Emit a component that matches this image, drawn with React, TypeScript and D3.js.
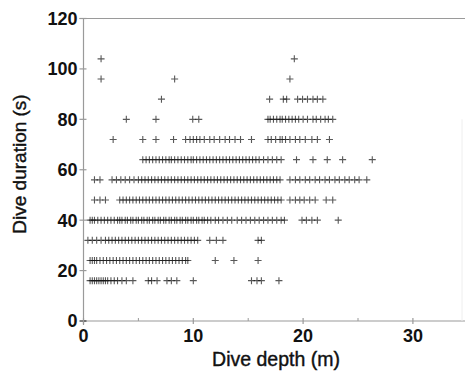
import React from "react";
import * as d3 from "d3";

const durations = [16, 24, 32, 40, 48, 56, 64, 72, 80, 88, 96, 104];

const depths16 = [0.6, 0.8, 1.0, 1.2, 1.4, 1.6, 1.8, 2.0, 2.2, 2.5, 2.8, 3.1, 3.5, 3.9, 4.5, 5.9, 6.2, 6.7, 7.6, 8.0, 8.5, 10.0, 15.3, 15.8, 16.2, 17.8];
const depths24 = [0.6, 0.8, 1.0, 1.2, 1.5, 1.8, 2.1, 2.4, 2.7, 3.0, 3.3, 3.6, 3.9, 4.2, 4.5, 4.8, 5.1, 5.4, 5.7, 6.0, 6.3, 6.6, 6.9, 7.2, 7.5, 7.8, 8.1, 8.4, 8.7, 9.0, 9.3, 9.5, 12.0, 13.7, 15.9];
const depths32 = [0.4, 0.8, 1.2, 1.6, 2.0, 2.3, 2.6, 2.9, 3.2, 3.5, 3.8, 4.1, 4.4, 4.7, 5.0, 5.3, 5.6, 5.9, 6.2, 6.5, 6.8, 7.1, 7.4, 7.7, 8.0, 8.3, 8.6, 8.9, 9.2, 9.5, 9.8, 10.1, 10.4, 11.5, 12.1, 12.7, 15.9, 16.2];
const depths40 = [0.6, 0.8, 1.0, 1.3, 1.6, 1.9, 2.2, 2.5, 2.8, 3.1, 3.3, 3.5, 3.8, 4.0, 4.3, 4.5, 4.8, 5.0, 5.3, 5.5, 5.8, 6.0, 6.3, 6.5, 6.8, 7.0, 7.3, 7.5, 7.8, 8.0, 8.3, 8.5, 8.8, 9.0, 9.3, 9.5, 9.8, 10.0, 10.3, 10.5, 10.8, 11.0, 11.3, 11.6, 12.0, 12.3, 12.7, 13.1, 13.5, 14.0, 14.4, 14.8, 15.2, 15.6, 16.0, 16.4, 16.8, 17.2, 17.6, 18.0, 18.3, 19.9, 20.3, 20.8, 21.3, 23.2];
const depths48 = [1.0, 1.5, 2.0, 3.3, 3.6, 3.9, 4.2, 4.5, 4.8, 5.1, 5.4, 5.7, 6.0, 6.3, 6.6, 6.9, 7.2, 7.5, 7.8, 8.1, 8.4, 8.7, 9.0, 9.3, 9.6, 9.9, 10.2, 10.5, 10.8, 11.1, 11.4, 11.7, 12.0, 12.3, 12.6, 12.9, 13.2, 13.5, 13.8, 14.1, 14.4, 14.7, 15.0, 15.3, 15.6, 15.9, 16.2, 16.5, 16.8, 17.1, 17.4, 17.7, 18.0, 18.8, 19.3, 19.7, 20.1, 20.6, 21.1, 22.1, 22.7];
const depths56 = [1.0, 1.5, 2.6, 3.0, 3.4, 3.8, 4.2, 4.6, 5.0, 5.3, 5.6, 5.9, 6.2, 6.5, 6.8, 7.1, 7.4, 7.7, 8.0, 8.3, 8.6, 8.9, 9.2, 9.5, 9.8, 10.1, 10.4, 10.7, 11.0, 11.3, 11.6, 11.9, 12.2, 12.5, 12.8, 13.1, 13.4, 13.7, 14.0, 14.3, 14.6, 14.9, 15.2, 15.5, 15.8, 16.1, 16.4, 16.7, 17.0, 17.3, 17.6, 17.9, 18.8, 19.3, 19.7, 20.2, 20.6, 21.1, 21.5, 22.0, 22.4, 22.9, 23.3, 23.8, 24.2, 24.7, 25.1, 25.8];
const depths64 = [5.4, 5.7, 6.0, 6.3, 6.6, 6.9, 7.2, 7.5, 7.8, 8.0, 8.3, 8.6, 8.9, 9.2, 9.5, 9.8, 10.0, 10.3, 10.6, 10.9, 11.2, 11.5, 11.8, 12.1, 12.4, 12.7, 13.0, 13.3, 13.6, 13.9, 14.2, 14.5, 14.8, 15.1, 15.4, 15.7, 16.0, 16.4, 16.8, 17.2, 17.6, 18.0, 19.4, 20.9, 22.2, 23.6, 26.3];
const depths72 = [2.7, 5.4, 6.6, 8.2, 9.3, 9.7, 10.0, 10.3, 10.6, 11.0, 11.5, 11.9, 12.4, 12.9, 13.3, 13.8, 14.3, 15.3, 16.8, 17.1, 17.5, 17.9, 18.1, 18.4, 18.8, 19.3, 19.7, 20.2, 20.8, 21.3, 22.4];
const depths80 = [3.9, 6.6, 9.95, 10.5, 16.8, 17.0, 17.3, 17.6, 17.9, 18.1, 18.4, 18.7, 19.0, 19.3, 19.6, 20.0, 20.4, 20.9, 21.2, 21.6, 22.0, 22.3, 22.7];
const depths88 = [7.1, 16.95, 18.2, 18.5, 19.5, 19.95, 20.4, 20.9, 21.3, 21.8];
const depths96 = [1.6, 8.3, 18.8];
const depths104 = [1.6, 19.2];

const depthRows = [depths16, depths24, depths32, depths40, depths48, depths56, depths64, depths72, depths80, depths88, depths96, depths104];

const xTicks = [0, 10, 20, 30];
const xMinorTicks = [5, 15, 25];
const yTicks = [0, 20, 40, 60, 80, 100, 120];

const W = 465;
const H = 371;

export default function App() {
  const x = d3.scaleLinear().domain([0, 35]).range([83.5, 83.5 + 35 * 10.98]);
  const y = d3.scaleLinear().domain([0, 120]).range([321, 18.5]);

  const points: { d: number; t: number }[] = [];
  depthRows.forEach((row, i) => {
    row.forEach((d) => points.push({ d, t: durations[i] }));
  });

  const axisColor = "#9a9a9a";
  const font = "'Liberation Sans', Arial, Helvetica, sans-serif";
  const s = 3.5;

  return (
    <svg width={W} height={H} style={{ position: "absolute", left: 0, top: 0, background: "#fff" }}>
      {/* frame lines */}
      <line x1={x(0)} x2={W} y1={y(0)} y2={y(0)} stroke={axisColor} strokeWidth={1.2} />
      <line x1={x(0) - 4} x2={W} y1={y(120)} y2={y(120)} stroke={axisColor} strokeWidth={1.2} />
      <line x1={x(0)} x2={x(0)} y1={y(0) + 4} y2={y(120)} stroke={axisColor} strokeWidth={1.2} />
      <line x1={462} x2={462} y1={y(80)} y2={y(0)} stroke="#eee" strokeWidth={1} />
      {/* y ticks */}
      {yTicks.map((t) => (
        <g key={"yt" + t}>
          <line x1={x(0) - 4} x2={x(0) + 3} y1={y(t)} y2={y(t)} stroke={t === 0 ? "#333" : axisColor} strokeWidth={1.2} />
          <text x={x(0) - 6} y={y(t)} dy="0.36em" textAnchor="end" fontFamily={font} fontWeight="bold" fontSize={18} fill="#111">
            {t}
          </text>
        </g>
      ))}
      {/* x ticks */}
      {xTicks.map((t) => (
        <g key={"xt" + t}>
          <line x1={x(t)} x2={x(t)} y1={y(0) - 3} y2={y(0) + 3} stroke={axisColor} strokeWidth={1.2} />
          <text x={x(t)} y={342} textAnchor="middle" fontFamily={font} fontWeight="bold" fontSize={18} fill="#111">
            {t}
          </text>
        </g>
      ))}
      {xMinorTicks.map((t) => (
        <line key={"xm" + t} x1={x(t)} x2={x(t)} y1={y(0) - 3} y2={y(0)} stroke={axisColor} strokeWidth={1} />
      ))}
      {/* points */}
      <g stroke="#111" strokeWidth={1.1} strokeOpacity={0.7} fill="none">
        {points.map((p, i) => {
          const cx = x(p.d);
          const cy = y(p.t);
          return <path key={i} d={`M${cx - s},${cy}H${cx + s}M${cx},${cy - s}V${cy + s}`} />;
        })}
      </g>
      {/* axis titles */}
      <text x={276} y={366} textAnchor="middle" fontFamily={font} fontSize={19.5} fill="#111" stroke="#111" strokeWidth={0.4}>
        Dive depth (m)
      </text>
      <text transform={`translate(26,164) rotate(-90)`} textAnchor="middle" fontFamily={font} fontSize={19} fill="#111" stroke="#111" strokeWidth={0.4}>
        Dive duration (s)
      </text>
    </svg>
  );
}
